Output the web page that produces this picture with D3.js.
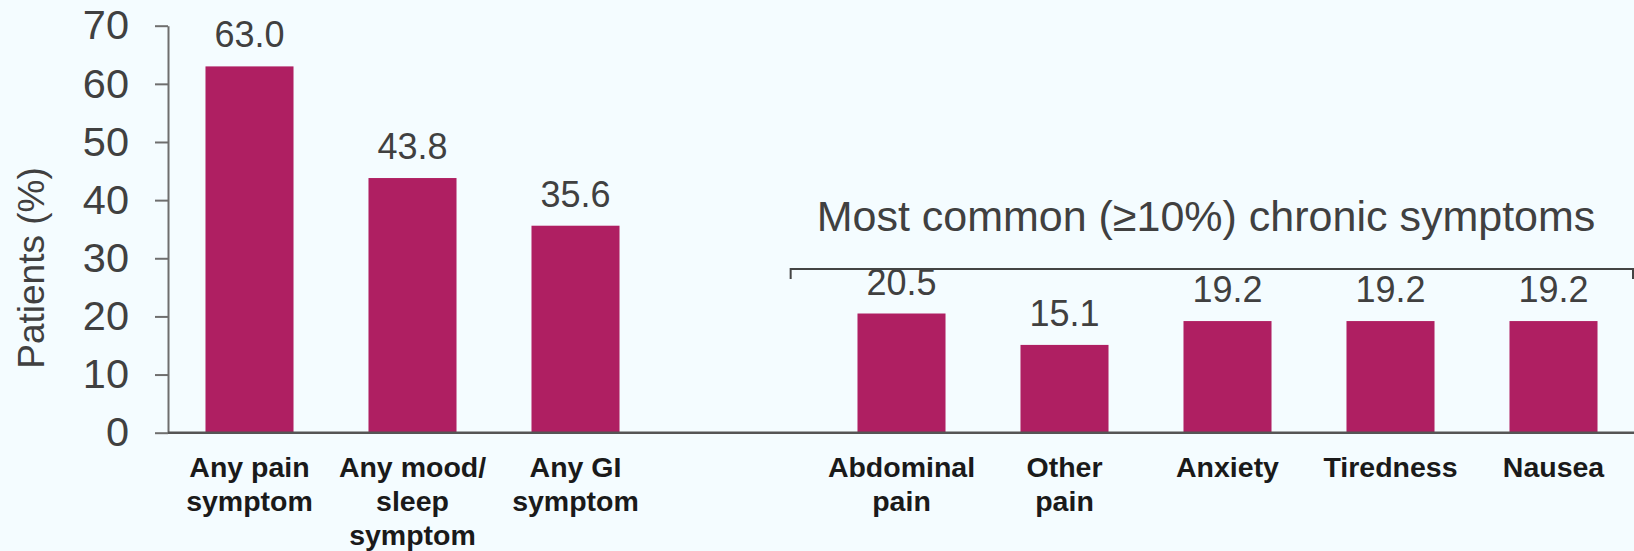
<!DOCTYPE html>
<html>
<head>
<meta charset="utf-8">
<script src="https://cdn.jsdelivr.net/npm/d3@7"></script>
<style>
  html, body { margin: 0; padding: 0; background: #f4fcff; }
  svg { display: block; font-family: Arial, "Liberation Sans", sans-serif; }
</style>
</head>
<body>
<svg id="chart" width="1634" height="551"></svg>
<script>
// overall symptom groups
var overallCategories = ['Any pain\nsymptom', 'Any mood/\nsleep\nsymptom', 'Any GI\nsymptom'];
var overallValues = [63.0, 43.8, 35.6];

// most common chronic symptoms
var chronicCategories = ['Abdominal\npain', 'Other\npain', 'Anxiety', 'Tiredness', 'Nausea'];
var chronicValues = [20.5, 15.1, 19.2, 19.2, 19.2];

var yTicks = [0, 10, 20, 30, 40, 50, 60, 70];
var groupTitle = 'Most common (\u226510%) chronic symptoms';
var yTitle = 'Patients (%)';

var barColor = '#af1f62';
var textColor = '#404040';

var svg = d3.select('#chart');

// one empty slot between the two groups
var domain = overallCategories.concat(['__gap__'], chronicCategories);
var bars = overallCategories.map(function(c, i) { return { cat: c, value: overallValues[i] }; })
  .concat(chronicCategories.map(function(c, i) { return { cat: c, value: chronicValues[i] }; }));

var x = d3.scaleBand()
  .domain(domain)
  .range([168, 1635])
  .paddingInner(0.46)
  .paddingOuter(0.23);

var y = d3.scaleLinear()
  .domain([0, 70])
  .range([432.7, 25.7]);

// y axis
var yAxis = svg.append('g')
  .attr('transform', 'translate(168,0)')
  .call(d3.axisLeft(y).tickValues(yTicks).tickSize(13).tickSizeOuter(0).tickPadding(26));

yAxis.select('.domain').attr('stroke', '#6e6e6e').attr('stroke-width', 2);
yAxis.selectAll('.tick line').attr('stroke', '#6e6e6e').attr('stroke-width', 2);
yAxis.selectAll('.tick text')
  .attr('fill', textColor)
  .style('font-size', '41.5px')
  .style('font-family', 'Arial, "Liberation Sans", sans-serif');

svg.append('text')
  .attr('transform', 'translate(44,268) rotate(-90)')
  .attr('text-anchor', 'middle')
  .attr('fill', textColor)
  .style('font-size', '37px')
  .text(yTitle);

// bars
svg.append('g').selectAll('rect')
  .data(bars)
  .enter().append('rect')
  .attr('x', function(d) { return x(d.cat); })
  .attr('y', function(d) { return y(d.value); })
  .attr('width', x.bandwidth())
  .attr('height', function(d) { return y(0) - y(d.value); })
  .attr('fill', barColor);

// x baseline
svg.append('line')
  .attr('x1', 168).attr('x2', 1634)
  .attr('y1', y(0)).attr('y2', y(0))
  .attr('stroke', '#555')
  .attr('stroke-width', 2.5);

// value labels
svg.append('g').selectAll('text')
  .data(bars)
  .enter().append('text')
  .attr('x', function(d) { return x(d.cat) + x.bandwidth() / 2; })
  .attr('y', function(d) { return y(d.value) - 19; })
  .attr('text-anchor', 'middle')
  .attr('fill', textColor)
  .style('font-size', '36px')
  .text(function(d) { return d.value.toFixed(1); });

// category labels, split over lines
var cats = svg.append('g').selectAll('text')
  .data(bars)
  .enter().append('text')
  .attr('text-anchor', 'middle')
  .attr('fill', '#1a1a1a')
  .style('font-size', '28.5px')
  .style('font-weight', 'bold');

cats.each(function(d) {
  var cx = x(d.cat) + x.bandwidth() / 2;
  d3.select(this).selectAll('tspan')
    .data(d.cat.split('\n'))
    .enter().append('tspan')
    .attr('x', cx)
    .attr('y', function(line, i) { return 477 + i * 34; })
    .text(function(line) { return line; });
});

// bracket over the chronic group
var bracketLeft = x(chronicCategories[0]) - x.step() * 0.41;
var bracketRight = 1633;
var bracketY = 269;
svg.append('path')
  .attr('d', 'M' + bracketLeft + ',' + (bracketY + 10) + 'V' + bracketY + 'H' + bracketRight + 'V' + (bracketY + 10))
  .attr('fill', 'none')
  .attr('stroke', '#444')
  .attr('stroke-width', 2);

svg.append('text')
  .attr('x', bracketLeft + 26)
  .attr('y', 231)
  .attr('fill', textColor)
  .style('font-size', '43px')
  .text(groupTitle);
</script>
</body>
</html>
